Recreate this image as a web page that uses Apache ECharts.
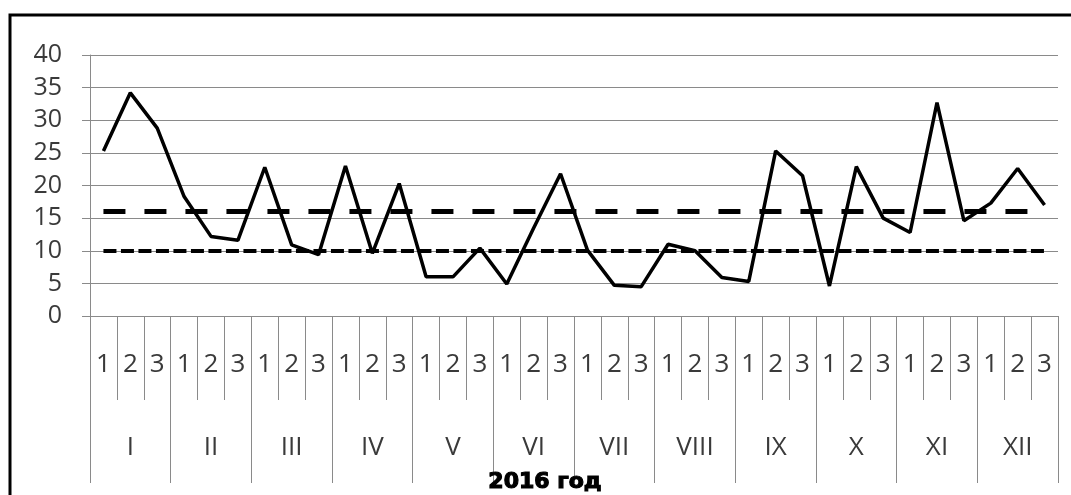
<!DOCTYPE html>
<html>
<head>
<meta charset="utf-8">
<script src="https://cdn.jsdelivr.net/npm/echarts@6/dist/echarts.min.js"></script>
<style>
html,body{margin:0;padding:0;background:#fff;}
#chart{width:1071px;height:495px;}
</style>
</head>
<body>
<div id="chart"></div>
<script>
var decades = ['1','2','3','1','2','3','1','2','3','1','2','3','1','2','3','1','2','3',
               '1','2','3','1','2','3','1','2','3','1','2','3','1','2','3','1','2','3'];
var months = ['I','II','III','IV','V','VI','VII','VIII','IX','X','XI','XII'];
var values = [25.3, 34.2, 28.8, 18.3, 12.2, 11.6, 22.8, 10.9, 9.4, 23.0, 9.6, 20.3,
              6.0, 6.0, 10.4, 4.9, 13.5, 21.8, 10.1, 4.7, 4.5, 11.0, 10.0, 5.9,
              5.3, 25.3, 21.5, 4.6, 22.9, 15.0, 12.8, 32.7, 14.6, 17.3, 22.6, 17.0];
var upperLimit = 16;
var lowerLimit = 10;
var yTicks = {min: 0, max: 40, interval: 5};
var xTitle = '2016 год';

var chart = echarts.init(document.getElementById('chart'), null, {renderer: 'canvas'});
var gridColor = '#8a8a8a';
var labelColor = '#3a3a3a';
var lastIdx = values.length - 1;

chart.setOption({
  animation: false,
  grid: {left: 90, right: 13, top: 55, bottom: 179, containLabel: false},
  xAxis: [
    {
      type: 'category',
      data: decades,
      position: 'bottom',
      boundaryGap: true,
      axisLine: {show: true, lineStyle: {color: gridColor, width: 1}},
      axisTick: {show: true, interval: 0, length: 84, lineStyle: {color: gridColor, width: 1}},
      axisLabel: {interval: 0, margin: 49, verticalAlign: 'middle', color: labelColor,
                  fontFamily: 'Open Sans', fontSize: 26}
    },
    {
      type: 'category',
      data: months,
      position: 'bottom',
      boundaryGap: true,
      axisLine: {show: false},
      axisTick: {show: true, interval: 0, length: 167, lineStyle: {color: gridColor, width: 1}},
      axisLabel: {interval: 0, margin: 132, verticalAlign: 'middle', color: labelColor,
                  fontFamily: 'Open Sans', fontSize: 26}
    }
  ],
  yAxis: {
    type: 'value',
    min: yTicks.min, max: yTicks.max, interval: yTicks.interval,
    axisLine: {show: true, lineStyle: {color: gridColor, width: 1}},
    axisTick: {show: true, length: 8, lineStyle: {color: gridColor, width: 1}},
    splitLine: {show: true, lineStyle: {color: gridColor, width: 1}},
    axisLabel: {margin: 28, color: labelColor, fontFamily: 'Open Sans', fontSize: 25}
  },
  series: [
    {
      type: 'line',
      xAxisIndex: 0,
      data: values,
      symbol: 'none',
      lineStyle: {color: '#000', width: 3.5},
      z: 5,
      markLine: {
        silent: true,
        symbol: 'none',
        label: {show: false},
        data: [
          [{coord: [0, upperLimit], lineStyle: {color: '#000', width: 5, type: [22, 19], cap: 'butt'}},
           {coord: [lastIdx, upperLimit]}],
          [{coord: [0, lowerLimit], lineStyle: {color: '#000', width: 4, type: [13, 4.5], cap: 'butt'}},
           {coord: [lastIdx, lowerLimit]}]
        ]
      }
    }
  ],
  graphic: [
    {
      type: 'rect',
      shape: {x: 10, y: 15, width: 1100, height: 600},
      style: {fill: 'none', stroke: '#000', lineWidth: 3},
      silent: true, z: 100
    },
    {
      type: 'text',
      x: 545, y: 482,
      style: {text: xTitle, fill: '#000', stroke: '#000', lineWidth: 1.2,
              font: '900 22px "DejaVu Sans"',
              textAlign: 'center', textVerticalAlign: 'middle'},
      z: 100
    }
  ]
});
</script>
</body>
</html>
